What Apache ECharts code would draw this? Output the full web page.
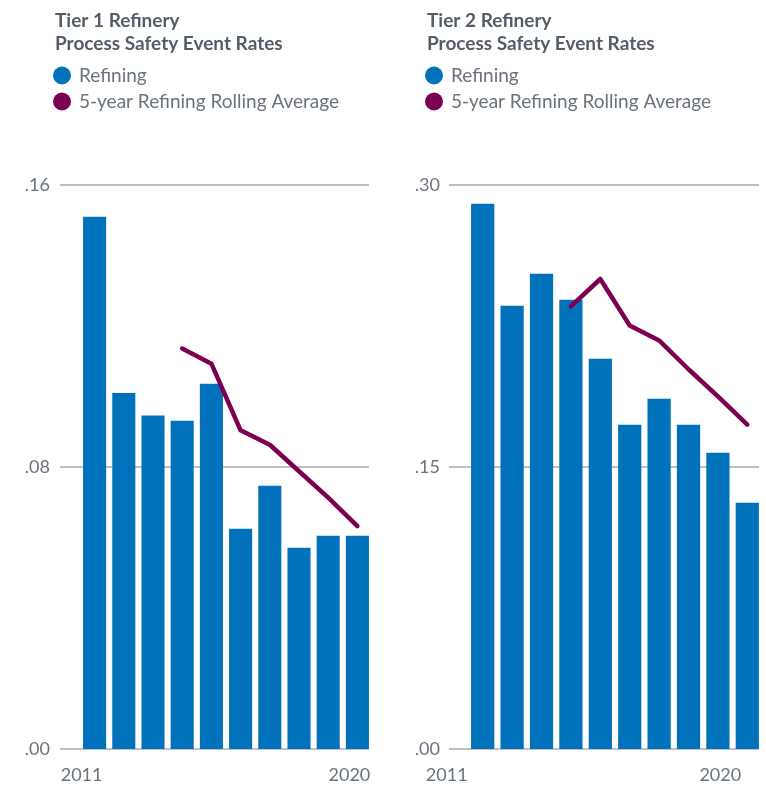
<!DOCTYPE html>
<html>
<head>
<meta charset="utf-8">
<script src="https://cdn.jsdelivr.net/npm/echarts@6/dist/echarts.min.js"></script>
<style>
  html, body { margin: 0; padding: 0; background: #fff; }
  #main { width: 766px; height: 786px; }
</style>
</head>
<body>
<div id="main"></div>
<script>
var years = ['2011', '2012', '2013', '2014', '2015', '2016', '2017', '2018', '2019', '2020'];

// Tier 1
var tier1Refining = [0.151, 0.101, 0.0946, 0.0931, 0.1036, 0.0625, 0.0747, 0.0571, 0.0605, 0.0605];
var tier1Rolling = ['-', '-', '-', 0.1136, 0.1093, 0.0904, 0.0863, 0.0788, 0.0713, 0.0632];
var tier1Ticks = { min: 0, max: 0.16, interval: 0.08 };

// Tier 2
var tier2Refining = [0.290, 0.2358, 0.2528, 0.239, 0.2076, 0.1725, 0.1863, 0.1725, 0.1576, 0.131];
var tier2Rolling = ['-', '-', '-', 0.2354, 0.25, 0.2253, 0.2173, 0.202, 0.1876, 0.1725];
var tier2Ticks = { min: 0, max: 0.30, interval: 0.15 };

var blue = '#0071bb';
var purple = '#7b0051';
var gridGrey = '#a9adb2';
var textGrey = '#6b737c';
var font = 'Lato';

var chart = echarts.init(document.getElementById('main'));

function fmt(v) {
    return v.toFixed(2).replace(/^0/, '');
}

// shows only first and last year, nudged left like the original
function yearAxis(gridIndex, shiftA, shiftB) {
    return {
        type: 'category',
        gridIndex: gridIndex,
        data: years,
        axisLine: { show: false },
        axisTick: { show: false },
        axisLabel: {
            interval: function (i) { return i === 0 || i === years.length - 1; },
            margin: 17,
            formatter: function (v, i) {
                return i === 0 ? '{a|' + v + '}' : '{b|' + v + '}';
            },
            rich: {
                a: { color: textGrey, fontSize: 18, fontFamily: font, padding: [0, shiftA * 2, 0, 0] },
                b: { color: textGrey, fontSize: 18, fontFamily: font, padding: [0, shiftB * 2, 0, 0] }
            }
        }
    };
}

function valueAxis(gridIndex, ticks, visible, margin) {
    return {
        type: 'value',
        gridIndex: gridIndex,
        min: ticks.min,
        max: ticks.max,
        interval: ticks.interval,
        axisLine: { show: false },
        axisTick: { show: false },
        splitLine: { show: visible, lineStyle: { color: gridGrey, width: 1.5 } },
        axisLabel: {
            show: visible,
            margin: margin,
            color: textGrey,
            fontSize: 18,
            fontFamily: font,
            padding: [0, 0, 8, 0],
            formatter: fmt
        }
    };
}

function hiddenX(gridIndex) {
    return { type: 'value', gridIndex: gridIndex, show: false, min: 0, max: 1 };
}

var legendNames = ['Refining', '5-year Refining Rolling Average'];

function legend(left) {
    return {
        left: left,
        top: 61,
        orient: 'vertical',
        icon: 'circle',
        itemWidth: 18,
        itemHeight: 18,
        itemGap: 7,
        selectedMode: false,
        data: legendNames,
        textStyle: { color: textGrey, fontSize: 19, fontFamily: font, padding: [0, 0, 0, 3] }
    };
}

var titleStyle = { color: '#545d67', fontSize: 19, fontWeight: 'bold', fontFamily: font, lineHeight: 23 };

var option = {
    animation: false,
    title: [
        { text: 'Tier 1 Refinery\nProcess Safety Event Rates', left: 50, top: 4, textStyle: titleStyle },
        { text: 'Tier 2 Refinery\nProcess Safety Event Rates', left: 422, top: 4, textStyle: titleStyle }
    ],
    legend: [legend(48), legend(420)],
    grid: [
        { left: 60, right: 397, top: 185, bottom: 37 },   // tier 1 gridlines
        { left: 80, right: 394, top: 185, bottom: 37 },   // tier 1 marks
        { left: 449, right: 7, top: 185, bottom: 37 },    // tier 2 gridlines
        { left: 468, right: 4, top: 185, bottom: 37 }     // tier 2 marks
    ],
    xAxis: [
        hiddenX(0),
        yearAxis(1, 13, 8),
        hiddenX(2),
        yearAxis(3, 36, 27)
    ],
    yAxis: [
        valueAxis(0, tier1Ticks, true, 10),
        valueAxis(1, tier1Ticks, false, 0),
        valueAxis(2, tier2Ticks, true, 9),
        valueAxis(3, tier2Ticks, false, 0)
    ],
    series: [
        {
            name: 'Refining', type: 'bar', xAxisIndex: 1, yAxisIndex: 1,
            data: tier1Refining, barCategoryGap: '21%',
            itemStyle: { color: blue }
        },
        {
            name: '5-year Refining Rolling Average', type: 'line', xAxisIndex: 1, yAxisIndex: 1,
            data: tier1Rolling, symbol: 'none', color: purple,
            lineStyle: { color: purple, width: 4.5, cap: 'round', join: 'round' },
            itemStyle: { color: purple }
        },
        {
            name: 'Refining', type: 'bar', xAxisIndex: 3, yAxisIndex: 3,
            data: tier2Refining, barCategoryGap: '21%',
            itemStyle: { color: blue }
        },
        {
            name: '5-year Refining Rolling Average', type: 'line', xAxisIndex: 3, yAxisIndex: 3,
            data: tier2Rolling, symbol: 'none', color: purple,
            lineStyle: { color: purple, width: 4.5, cap: 'round', join: 'round' },
            itemStyle: { color: purple }
        }
    ]
};

chart.setOption(option);
</script>
</body>
</html>
